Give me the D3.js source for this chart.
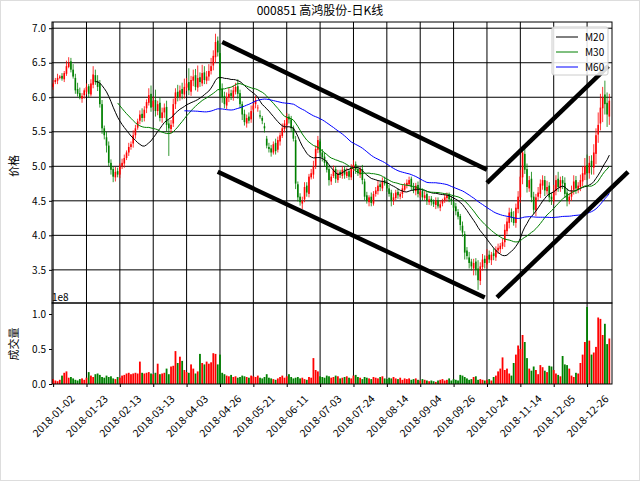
<!DOCTYPE html>
<html><head><meta charset="utf-8">
<script src="https://cdn.jsdelivr.net/npm/d3@7"></script>
<style>body{margin:0;background:#fff}svg{display:block}text{font-family:"Noto Sans CJK SC","DejaVu Sans",sans-serif}</style>
</head><body><svg id="c" width="640" height="483"></svg>
<script>
const closes=[6.20,6.25,6.28,6.30,6.27,6.35,6.45,6.50,6.40,6.30,6.10,6.05,6.00,6.02,6.10,6.15,6.05,6.20,6.33,6.22,
6.15,5.90,5.55,5.45,5.30,5.05,4.95,4.85,4.92,4.88,5.00,5.05,5.12,5.20,5.28,5.32,5.45,5.55,5.65,5.75,
5.70,5.82,5.93,6.03,5.85,5.95,5.80,5.90,5.70,5.78,5.85,5.60,5.55,5.60,5.90,6.07,6.00,6.10,6.05,6.15,
6.20,6.10,6.25,6.30,6.15,6.28,6.22,6.35,6.25,6.30,6.38,6.45,6.60,6.80,6.65,6.10,6.00,5.90,6.00,6.05,
6.02,6.10,6.15,6.05,5.90,5.75,5.64,5.70,5.66,5.80,5.88,5.96,5.85,5.72,5.66,5.55,5.30,5.25,5.20,5.32,
5.22,5.38,5.45,5.55,5.62,5.71,5.68,5.55,5.40,4.75,4.55,4.48,4.50,4.70,4.62,4.85,4.90,5.00,5.25,5.38,
5.20,5.13,5.05,4.95,4.80,4.85,4.95,4.82,4.90,4.88,4.95,4.88,4.92,4.85,4.98,5.02,4.95,4.90,4.96,4.80,
4.56,4.50,4.55,4.47,4.60,4.65,4.72,4.70,4.78,4.75,4.68,4.60,4.50,4.55,4.62,4.58,4.60,4.68,4.72,4.76,
4.80,4.70,4.65,4.72,4.60,4.63,4.55,4.58,4.50,4.52,4.48,4.45,4.50,4.42,4.45,4.50,4.55,4.58,4.52,4.50,
4.40,4.35,4.27,4.15,4.04,3.75,3.70,3.60,3.55,3.60,3.50,3.35,3.55,3.65,3.60,3.70,3.65,3.72,3.70,3.79,
3.82,3.85,3.90,4.08,4.20,4.33,4.25,4.18,4.40,4.56,4.85,5.20,4.95,4.70,4.80,4.55,4.37,4.55,4.62,4.75,
4.80,4.65,4.70,4.55,4.52,4.65,4.80,4.70,4.80,4.75,4.60,4.50,4.56,4.65,4.78,4.68,4.72,4.80,4.90,5.00,
4.90,5.05,5.00,5.20,5.45,5.60,5.85,6.00,5.90,5.75,5.95];
const opens=[6.15,6.22,6.24,6.28,6.31,6.26,6.34,6.44,6.52,6.40,6.28,6.12,6.06,5.98,6.03,6.08,6.16,6.04,6.18,6.32,
6.24,6.20,5.90,5.55,5.42,5.30,5.05,4.96,4.84,4.93,4.88,5.00,5.04,5.12,5.20,5.28,5.33,5.45,5.56,5.66,
5.76,5.70,5.84,5.92,6.05,5.86,5.96,5.80,5.92,5.70,5.78,5.86,5.62,5.54,5.62,5.90,6.08,6.00,6.12,6.04,
6.14,6.22,6.08,6.24,6.32,6.14,6.29,6.20,6.36,6.24,6.30,6.38,6.46,6.58,6.82,6.64,6.12,6.02,5.88,6.00,
6.06,6.00,6.08,6.16,6.06,5.90,5.76,5.62,5.72,5.68,5.82,5.90,5.84,5.74,5.70,5.58,5.40,5.28,5.26,5.20,
5.34,5.24,5.36,5.44,5.54,5.60,5.72,5.68,5.56,5.38,4.74,4.56,4.46,4.52,4.72,4.60,4.84,4.88,5.00,5.24,
5.36,5.20,5.14,5.06,4.96,4.78,4.86,4.96,4.80,4.92,4.86,4.96,4.86,4.93,4.84,4.96,5.03,4.96,4.88,4.96,
4.78,4.58,4.48,4.56,4.46,4.60,4.64,4.74,4.68,4.80,4.76,4.68,4.62,4.50,4.54,4.63,4.56,4.60,4.66,4.72,
4.74,4.82,4.70,4.64,4.73,4.58,4.64,4.54,4.60,4.48,4.53,4.49,4.44,4.51,4.40,4.46,4.50,4.54,4.59,4.53,
4.48,4.42,4.34,4.28,4.14,4.02,3.78,3.68,3.62,3.52,3.62,3.52,3.34,3.54,3.66,3.58,3.72,3.64,3.74,3.68,
3.78,3.80,3.84,3.90,4.06,4.18,4.34,4.26,4.18,4.38,4.55,4.84,5.18,4.96,4.68,4.82,4.56,4.36,4.56,4.60,
4.72,4.80,4.64,4.72,4.56,4.50,4.64,4.82,4.68,4.80,4.76,4.62,4.50,4.56,4.66,4.80,4.66,4.70,4.78,4.88,
5.02,4.90,5.08,4.98,5.18,5.46,5.62,5.84,6.04,5.92,5.72];
const highWick=[5,3,6,2,4,3,8,8,5,8,6,9,8,4,3,5,3,6,12,8,
8,5,6,4,8,6,5,4,7,5,4,6,5,3,6,4,7,5,4,6,
8,5,4,10,12,6,15,5,8,7,6,9,5,7,8,6,10,7,9,12,
8,20,6,10,9,18,7,12,9,8,10,12,8,12,6,14,8,6,7,9,
5,7,6,10,5,4,6,5,6,8,5,6,4,7,3,5,4,6,5,4,
6,5,4,7,5,6,4,5,3,6,4,5,6,7,5,4,6,8,5,6,
4,5,6,3,5,4,6,4,5,3,5,4,6,3,5,7,4,5,3,6,
4,5,3,6,4,5,7,4,6,5,3,5,4,6,4,5,3,6,4,5,
5,3,6,4,5,3,4,6,3,5,4,3,5,4,6,3,5,4,3,4,
3,5,4,3,6,4,5,8,4,6,5,12,6,8,5,10,6,4,7,5,
6,4,5,8,6,7,5,9,6,8,10,5,12,8,6,10,7,5,8,6,
7,6,9,5,6,8,7,10,5,6,8,6,5,7,9,6,5,8,10,12,
15,10,8,12,10,18,20,15,20,15,10];
const lowWick=[4,3,5,2,3,4,3,2,4,3,5,4,3,6,5,4,6,3,5,4,
6,5,8,6,10,5,7,8,6,4,5,4,6,3,5,4,6,5,3,5,
6,5,7,4,6,5,8,6,5,7,8,10,40,6,5,7,6,5,8,6,
5,7,6,8,5,6,7,4,6,5,6,5,7,8,6,10,8,6,5,7,
6,5,4,7,6,8,5,6,4,5,4,6,5,3,5,6,4,5,6,3,
5,4,6,3,5,4,6,5,4,8,6,5,8,4,6,5,3,6,4,5,
4,6,5,4,8,5,3,6,4,5,4,6,3,5,4,3,6,4,5,6,
5,4,6,5,3,4,5,6,4,3,5,4,8,6,3,5,4,6,3,4,
3,5,4,6,5,4,5,3,6,4,5,4,6,3,5,4,3,5,4,6,
5,6,4,8,6,10,5,8,6,10,8,14,6,5,8,6,5,7,6,5,
5,6,4,7,5,8,6,4,7,6,8,10,6,8,5,7,6,8,5,6,
6,8,5,7,8,5,6,7,5,8,6,8,5,6,7,8,5,6,7,8,
10,8,12,10,15,12,10,20,15,18,12];
const volumes=[.07,.05,.04,.06,.12,.16,.18,.09,.10,.08,.06,.05,.07,.08,.06,.09,.17,.12,.10,.14,
.15,.13,.10,.09,.12,.10,.11,.08,.07,.10,.09,.12,.13,.15,.16,.14,.15,.16,.15,.32,
.16,.15,.16,.17,.15,.14,.16,.29,.14,.15,.16,.22,.14,.25,.26,.47,.30,.39,.33,.20,
.17,.16,.28,.22,.15,.18,.43,.30,.28,.32,.29,.31,.44,.43,.28,.42,.16,.14,.12,.11,
.13,.10,.11,.09,.10,.12,.11,.10,.09,.12,.11,.10,.12,.09,.08,.10,.14,.09,.08,.07,
.06,.08,.10,.12,.09,.11,.14,.10,.08,.09,.10,.08,.09,.07,.06,.10,.09,.37,.20,.18,
.11,.10,.09,.12,.11,.09,.10,.12,.11,.08,.09,.10,.11,.09,.08,.12,.13,.10,.09,.07,
.10,.09,.08,.07,.10,.09,.08,.10,.11,.08,.07,.09,.08,.10,.08,.07,.09,.06,.08,.07,
.08,.06,.07,.08,.06,.05,.07,.06,.05,.04,.05,.04,.03,.05,.06,.07,.05,.06,.08,.05,
.07,.06,.05,.13,.12,.10,.08,.06,.07,.10,.11,.06,.07,.06,.05,.06,.07,.05,.10,.12,
.18,.22,.38,.20,.22,.15,.12,.30,.42,.55,.50,.70,.60,.37,.22,.19,.25,.20,.14,.27,
.24,.19,.17,.26,.25,.20,.15,.13,.11,.40,.28,.27,.22,.12,.10,.16,.15,.30,.42,.60,
1.10,.62,.42,.45,.53,.95,.93,.70,.86,.57,.65];
const tickIdx=[0,15,30,45,60,75,90,105,120,135,150,165,180,195,210,225,240];
const tickLabels=["2018-01-02","2018-01-23","2018-02-13","2018-03-13","2018-04-03","2018-04-26","2018-05-21","2018-06-11","2018-07-03","2018-07-24","2018-08-14","2018-09-04","2018-09-26","2018-10-24","2018-11-14","2018-12-05","2018-12-26"];
const priceTicks=[3.5,4.0,4.5,5.0,5.5,6.0,6.5,7.0];
const volTicks=[0,0.5,1.0];
const maPeriods=[20,30,60], maNames=["M20","M30","M60"], maColors=["#000","green","blue"];
const trendLines=[[[76,6.80],[195,4.95]],[[74,4.92],[194,3.10]],[[195,4.76],[249.5,6.45]],[[199.5,3.10],[258.4,4.92]]];

const svg=d3.select("#c");
const L=52,R=612,PT=22,PB=303,VB=384;
const x=d3.scaleLinear().domain([-0.5,251.2]).range([L,R]);
const y=d3.scaleLinear().domain([3.02,7.09]).range([PB,PT]);
const yv=d3.scaleLinear().domain([0,1.157]).range([VB,PB]);
svg.append("rect").attr("x",0.5).attr("y",0.5).attr("width",639).attr("height",480).attr("fill","#fff").attr("stroke","#ddd");
const n=closes.length;
const data=d3.range(n).map(i=>({i,o:opens[i],c:closes[i],h:Math.max(opens[i],closes[i])+highWick[i]/100,l:Math.min(opens[i],closes[i])-lowWick[i]/100,v:volumes[i]}));
const col=d=>d.c>=d.o?"red":"green";
const g=svg.append("g");
g.selectAll(".hg").data(priceTicks).join("line").attr("x1",L).attr("x2",R).attr("y1",d=>y(d)).attr("y2",d=>y(d)).attr("stroke","#000").attr("stroke-width",1);
g.selectAll(".vg").data(tickIdx).join("line").attr("x1",d=>x(d)).attr("x2",d=>x(d)).attr("y1",PT).attr("y2",VB).attr("stroke","#000").attr("stroke-width",1);
const cg=svg.append("g");
cg.selectAll("line.w").data(data).join("line").attr("x1",d=>x(d.i)).attr("x2",d=>x(d.i)).attr("y1",d=>y(d.h)).attr("y2",d=>y(d.l)).attr("stroke",col).attr("stroke-width",0.8);
cg.selectAll("rect").data(data).join("rect").attr("x",d=>x(d.i)-0.8).attr("width",1.6).attr("y",d=>y(Math.max(d.o,d.c))).attr("height",d=>Math.max(0.6,Math.abs(y(d.o)-y(d.c)))).attr("fill",col);
maPeriods.forEach((p,k)=>{
  const pts=[];for(let i=p-1;i<n;i++){pts.push([i,d3.mean(closes.slice(i-p+1,i+1))]);}
  svg.append("path").attr("d",d3.line().x(d=>x(d[0])).y(d=>y(d[1]))(pts)).attr("fill","none").attr("stroke",maColors[k]).attr("stroke-width",1);
});
trendLines.forEach(t=>svg.append("line").attr("x1",x(t[0][0])).attr("y1",y(t[0][1])).attr("x2",x(t[1][0])).attr("y2",y(t[1][1])).attr("stroke","#000").attr("stroke-width",4.5));
svg.selectAll("rect.v").data(data).join("rect").attr("class","v").attr("x",d=>x(d.i)-0.9).attr("width",1.8).attr("y",d=>yv(d.v)).attr("height",d=>VB-yv(d.v)).attr("fill",col);
[[PT,PB],[PB,VB]].forEach(([a,b])=>svg.append("rect").attr("x",L).attr("y",a).attr("width",R-L).attr("height",b-a).attr("fill","none").attr("stroke","#000").attr("stroke-width",1));
const ya=svg.append("g").attr("transform",`translate(${L},0)`).call(d3.axisLeft(y).tickValues(priceTicks).tickFormat(d3.format(".1f")).tickSize(3));
const va=svg.append("g").attr("transform",`translate(${L},0)`).call(d3.axisLeft(yv).tickValues(volTicks).tickFormat(d3.format(".1f")).tickSize(3));
const xa=svg.append("g").attr("transform",`translate(0,${VB})`).call(d3.axisBottom(x).tickValues(tickIdx).tickFormat((d,i)=>tickLabels[i]).tickSize(3));
[ya,va,xa].forEach(a=>{a.select(".domain").remove();a.selectAll("text").attr("font-size",10).attr("fill","#000");});
xa.selectAll("text").attr("font-size",10.5).attr("text-anchor","middle").attr("y",0).attr("dy","0.35em").attr("transform","translate(0,32) rotate(-45)");
svg.append("text").attr("x",52).attr("y",301).attr("font-size",10).text("1e8");
svg.append("text").attr("x",320).attr("y",15).attr("text-anchor","middle").attr("font-size",12).text("000851 高鸿股份-日K线");
svg.append("text").attr("transform","translate(18,166) rotate(-90)").attr("text-anchor","middle").attr("font-size",11).text("价格");
svg.append("text").attr("transform","translate(18,344) rotate(-90)").attr("text-anchor","middle").attr("font-size",11).text("成交量");
const lg=svg.append("g");
lg.append("rect").attr("x",552).attr("y",27).attr("width",56).attr("height",48).attr("rx",2).attr("fill","#fff").attr("fill-opacity",0.85).attr("stroke","#ccc");
maNames.forEach((m,k)=>{const yy=37+k*15;
  lg.append("line").attr("x1",556).attr("x2",578).attr("y1",yy).attr("y2",yy).attr("stroke",maColors[k]).attr("stroke-width",1);
  lg.append("text").attr("x",585).attr("y",yy+4).attr("font-size",10).text(m);});
</script></body></html>
